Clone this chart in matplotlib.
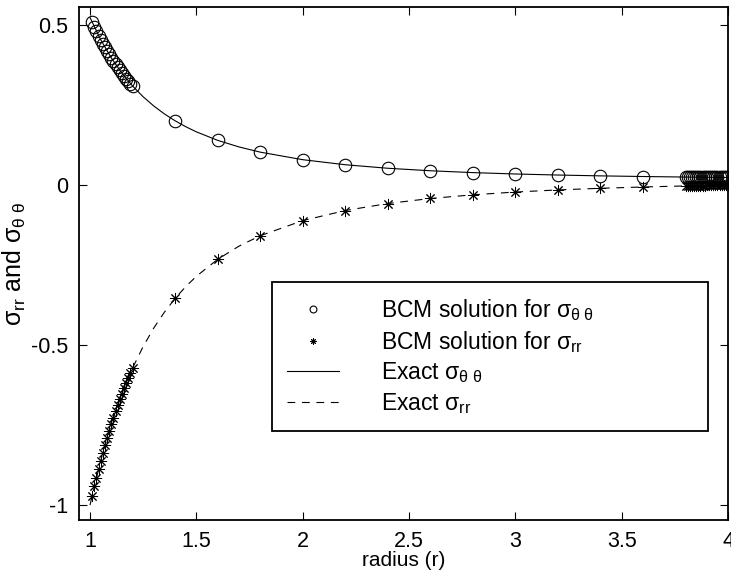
import matplotlib
matplotlib.use("Agg")
import matplotlib.pyplot as plt

plt.rcParams['font.family'] = ['Liberation Sans', 'DejaVu Sans']
plt.rcParams['mathtext.fontset'] = 'custom'
plt.rcParams['mathtext.rm'] = 'Liberation Sans'
plt.rcParams['mathtext.it'] = 'Liberation Sans'

# exact curves
r_exact = [1.0, 1.05, 1.1, 1.15, 1.2, 1.25, 1.3, 1.35, 1.4, 1.45, 1.5, 1.6, 1.7, 1.8,
           2.0, 2.2, 2.4, 2.6, 2.8, 3.0, 3.2, 3.4, 3.6, 3.8, 4.0]
tt_exact = [0.5238, 0.4547, 0.3975, 0.3499, 0.3098, 0.2759, 0.2471, 0.2223, 0.2010, 0.1825,
            0.1664, 0.1399, 0.1193, 0.1030, 0.0794, 0.0636, 0.0526, 0.0448, 0.0390,
            0.0347, 0.0314, 0.0288, 0.0268, 0.0251, 0.0238]
rr_exact = [-1.0, -0.8617, -0.7474, -0.6521, -0.5720, -0.5043, -0.4465, -0.3970, -0.3543,
            -0.3173, -0.2851, -0.2321, -0.1909, -0.1583, -0.1111, -0.0795, -0.0576,
            -0.0419, -0.0304, -0.0217, -0.0151, -0.0100, -0.0059, -0.0026, 0.0]

# BCM solution points
r_bcm = [1.01, 1.02, 1.03, 1.04, 1.05, 1.06, 1.07, 1.08, 1.09, 1.10,
         1.11, 1.12, 1.13, 1.14, 1.15, 1.16, 1.17, 1.18, 1.19, 1.20,
         1.4, 1.6, 1.8, 2.0, 2.2, 2.4, 2.6, 2.8, 3.0, 3.2, 3.4, 3.6,
         3.80, 3.81, 3.82, 3.83, 3.84, 3.85, 3.86, 3.87, 3.88, 3.89, 3.90,
         3.91, 3.92, 3.93, 3.94, 3.95, 3.96, 3.97, 3.98, 3.99, 4.00]
tt_bcm = [0.5089, 0.4945, 0.4807, 0.4674, 0.4547, 0.4423, 0.4305, 0.4191, 0.4081, 0.3975,
          0.3873, 0.3774, 0.3679, 0.3587, 0.3499, 0.3413, 0.3330, 0.3250, 0.3173, 0.3098,
          0.2010, 0.1399, 0.1030, 0.0794, 0.0636, 0.0526, 0.0448, 0.0390, 0.0347, 0.0314,
          0.0288, 0.0268,
          0.0251, 0.02506, 0.02499, 0.02492, 0.02484, 0.02477, 0.02470, 0.02464, 0.02457,
          0.02450, 0.02444, 0.02437, 0.02430, 0.02424, 0.02418, 0.02412, 0.02405, 0.02399,
          0.02393, 0.02387, 0.02381]
rr_bcm = [-0.9701, -0.9414, -0.9138, -0.8872, -0.8617, -0.8371, -0.8134, -0.7906, -0.7686,
          -0.7474, -0.7269, -0.7072, -0.6882, -0.6698, -0.6521, -0.6350, -0.6184, -0.6024,
          -0.5869, -0.5720,
          -0.3543, -0.2321, -0.1583, -0.1111, -0.0795, -0.0576, -0.0419, -0.0304, -0.0217,
          -0.0151, -0.0100, -0.0059,
          -0.0026, -0.00250, -0.00235, -0.00221, -0.00207, -0.00193, -0.00179, -0.00165,
          -0.00152, -0.00139, -0.00125, -0.00112, -0.00099, -0.00086, -0.00074, -0.00061,
          -0.00049, -0.00036, -0.00024, -0.00012, 0.0]

x_ticks = [1, 1.5, 2, 2.5, 3, 3.5, 4]
x_labels = ['1', '1.5', '2', '2.5', '3', '3.5', '4']
y_ticks = [-1, -0.5, 0, 0.5]
y_labels = ['-1', '-0.5', '0', '0.5']

fig = plt.figure(figsize=(7.31, 5.76), dpi=100)
ax = fig.add_axes([0.108, 0.097, 0.888, 0.890])

ax.plot(r_bcm, tt_bcm, 'o', mfc='none', mec='black', ms=9, mew=0.8,
        label=r'BCM solution for $\sigma_{\theta\ \theta}$')
ax.plot(r_bcm, rr_bcm, ls='none', marker=(8, 2, 0), color='black', ms=8, mew=0.7,
        label=r'BCM solution for $\sigma_{rr}$')
ax.plot(r_exact, tt_exact, '-', color='black', lw=0.8, label=r'Exact $\sigma_{\theta\ \theta}$')
ax.plot(r_exact, rr_exact, color='black', lw=0.8, ls=(0, (7, 6)), label=r'Exact $\sigma_{rr}$')

ax.set_xlim(0.948, 4)
ax.set_ylim(-1.047, 0.555)
ax.set_xticks(x_ticks)
ax.set_xticklabels(x_labels)
ax.set_yticks(y_ticks)
ax.set_yticklabels(y_labels)
ax.tick_params(direction='in', top=True, right=True, labelsize=15.5, length=6, width=0.8, pad=8)
for s in ax.spines.values():
    s.set_linewidth(1.3)

ax.set_xlabel('radius (r)', fontsize=15, labelpad=-1)
ax.set_ylabel(r'$\sigma_{rr}$ and $\sigma_{\theta\ \theta}$', fontsize=18, labelpad=2)

leg = ax.legend(loc='upper left', bbox_to_anchor=(0.297, 0.14, 0.672, 0.324), mode='expand',
                fontsize=16.5, fancybox=False, framealpha=1, edgecolor='black',
                handlelength=2.3, handletextpad=1.8, borderpad=0.65, labelspacing=0.25,
                markerscale=0.55, borderaxespad=0)
leg.get_frame().set_linewidth(1.3)

fig.savefig('out.png', dpi=100)
